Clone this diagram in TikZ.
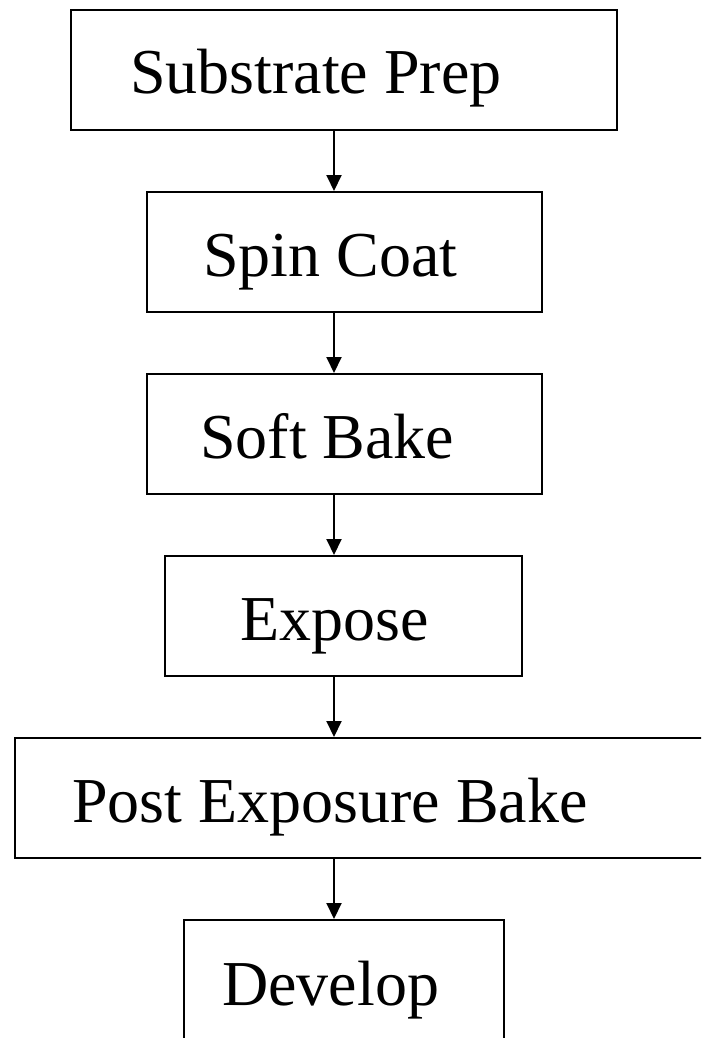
\documentclass[tikz,border=0pt]{standalone}
\usepackage{fontspec}
\setmainfont{Liberation Serif}
\usetikzlibrary{arrows.meta,positioning}

\begin{document}
\begin{tikzpicture}[
    x=1pt, y=-1pt,
    box/.style={draw, line width=2pt, minimum height=120pt, inner sep=0pt},
    lbl/.style={anchor=base west, inner sep=0pt, font=\fontsize{64}{70}\selectfont},
    arr/.style={-{Triangle[length=16pt,width=15pt]}, line width=2pt}
  ]
  \clip (0,0) rectangle (701,1038);
  % process boxes
  \node[box, minimum width=546pt] (prep)  at (344,70)   {};
  \node[box, minimum width=395pt] (spin)  at (344.5,252) {};
  \node[box, minimum width=395pt] (soft)  at (344.5,434) {};
  \node[box, minimum width=357pt] (expo)  at (343.5,616) {};
  \node[box, minimum width=720pt] (peb)   at (375,798)  {};
  \node[box, minimum width=320pt] (dev)   at (344,980)  {};

  \node[lbl] (prept) at (130,94)  {Substrate Prep};
  \node[lbl] (spint) at (203,276) {Spin Coat};
  \node[lbl] (softt) at (200,458) {Soft Bake};
  \node[lbl] (expot) at (240,640) {Expose};
  \node[lbl] (pebt)  at (72,822)  {Post Exposure Bake};
  \node[lbl] (devt)  at (222,1005) {Develop};

  \draw[arr] (prep.south -| 334,0) -- (spin.north -| 334,0);
  \draw[arr] (spin.south -| 334,0) -- (soft.north -| 334,0);
  \draw[arr] (soft.south -| 334,0) -- (expo.north -| 334,0);
  \draw[arr] (expo.south -| 334,0) -- (peb.north -| 334,0);
  \draw[arr] (peb.south -| 334,0) -- (dev.north -| 334,0);
\end{tikzpicture}
\end{document}
